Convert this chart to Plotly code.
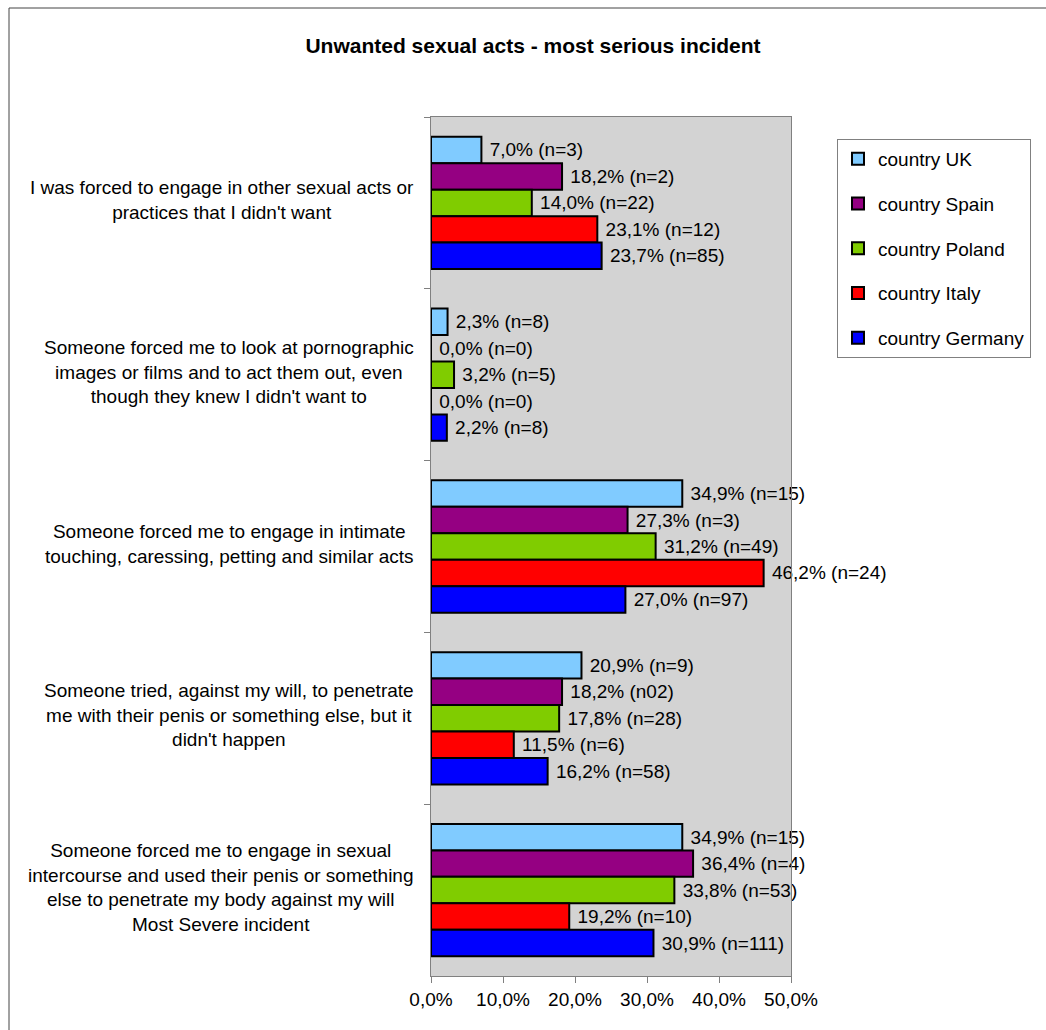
import plotly.graph_objects as go

# Survey categories (top to bottom) and wrapped labels
categories = [
    "I was forced to engage in other sexual acts or<br>practices that I didn't want",
    "Someone forced me to look at pornographic<br>images or films and to act them out, even<br>though they knew I didn't want to",
    "Someone forced me to engage in intimate<br>touching, caressing, petting and similar acts",
    "Someone tried, against my will, to penetrate<br>me with their penis or something else, but it<br>didn't happen",
    "Someone forced me to engage in sexual<br>intercourse and used their penis or something<br>else to penetrate my body against my will<br>Most Severe incident",
]

countries = ["country UK", "country Spain", "country Poland", "country Italy", "country Germany"]

# Percentages per country, in category order
uk_pct = [7.0, 2.3, 34.9, 20.9, 34.9]
spain_pct = [18.2, 0.0, 27.3, 18.2, 36.4]
poland_pct = [14.0, 3.2, 31.2, 17.8, 33.8]
italy_pct = [23.1, 0.0, 46.2, 11.5, 19.2]
germany_pct = [23.7, 2.2, 27.0, 16.2, 30.9]

# Sample-size annotations per country
uk_n = ["(n=3)", "(n=8)", "(n=15)", "(n=9)", "(n=15)"]
spain_n = ["(n=2)", "(n=0)", "(n=3)", "(n02)", "(n=4)"]
poland_n = ["(n=22)", "(n=5)", "(n=49)", "(n=28)", "(n=53)"]
italy_n = ["(n=12)", "(n=0)", "(n=24)", "(n=6)", "(n=10)"]
germany_n = ["(n=85)", "(n=8)", "(n=97)", "(n=58)", "(n=111)"]

x_ticks = [0, 10, 20, 30, 40, 50]
x_tick_labels = ["0,0%", "10,0%", "20,0%", "30,0%", "40,0%", "50,0%"]

colors = ["#80CBFF", "#950082", "#80CC00", "#FF0000", "#0000FF"]
values = [uk_pct, spain_pct, poland_pct, italy_pct, germany_pct]
ns = [uk_n, spain_n, poland_n, italy_n, germany_n]

FONT = "Arial, Liberation Sans, sans-serif"

fig = go.Figure()
for name, vals, nlist, col in zip(countries, values, ns, colors):
    labels = ["\u00a0" + f"{v:.1f}".replace(".", ",") + "% " + n for v, n in zip(vals, nlist)]
    fig.add_trace(go.Bar(
        y=categories, x=vals, orientation="h", name=name,
        legendgroup=name,
        marker=dict(color=col, line=dict(color="black", width=2)),
        text=labels, textposition="outside", constraintext="none",
        textfont=dict(family=FONT, size=19, color="black"),
        cliponaxis=False, hoverinfo="skip",
    ))

# Category labels, centred multi-line text left of the plot
for cat in categories:
    fig.add_annotation(
        x=-0.042, xref="paper", y=cat, yref="y", yshift=3,
        text=cat, showarrow=False, xanchor="right", align="center",
        font=dict(family=FONT, size=19, color="black"),
    )

# Outer chart frame
fig.add_shape(type="rect", xref="paper", yref="paper",
              x0=(9 - 431) / 360, x1=(1060 - 431) / 360,
              y0=-(1050 - 976) / 859, y1=1 + (117 - 8) / 859,
              line=dict(color="#444444", width=1), layer="below")

fig.update_layout(
    width=1046, height=1030,
    margin=dict(l=431, r=255, t=117, b=54),
    paper_bgcolor="white", plot_bgcolor="#D3D3D3",
    barmode="group", bargap=0.23, bargroupgap=0,
    font=dict(family=FONT, size=19, color="black"),
    title=dict(text="<b>Unwanted sexual acts - most serious incident</b>",
               x=533 / 1046, xanchor="center", y=1 - 46 / 1030, yanchor="middle",
               font=dict(family=FONT, size=21, color="black")),
    showlegend=True,
    legend=dict(x=(837 - 431) / 360, xanchor="left", y=1 - (139 - 117) / 859, yanchor="top",
                bordercolor="#808080", borderwidth=1, bgcolor="white",
                traceorder="grouped", tracegroupgap=17, entrywidth=165,
                font=dict(family=FONT, size=19, color="black")),
    xaxis=dict(range=[0, 50], tickvals=x_ticks, ticktext=x_tick_labels,
               showgrid=False, zeroline=False, showline=True, linecolor="#808080", mirror=True,
               ticks="outside", ticklen=6, tickcolor="#808080",
               tickfont=dict(family=FONT, size=19, color="black"), fixedrange=True),
    yaxis=dict(categoryorder="array", categoryarray=categories, autorange="reversed",
               showticklabels=False, tickson="boundaries", ticks="outside", ticklen=6,
               tickcolor="#808080", showgrid=False, zeroline=False,
               showline=True, linecolor="#808080", mirror=True, fixedrange=True),
)

fig.write_html("out.html")
